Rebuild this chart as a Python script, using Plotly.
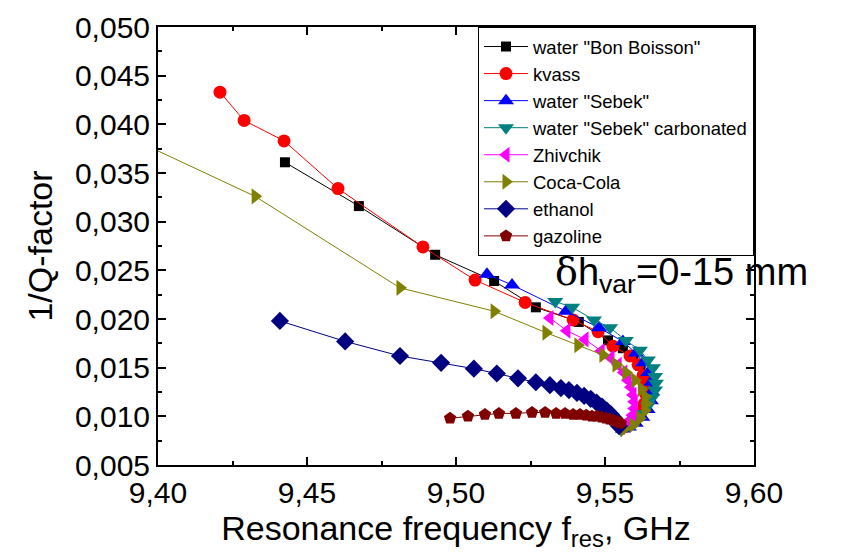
import plotly.graph_objects as go

# ---- data ----
series_names = ['water "Bon Boisson"', 'kvass', 'water "Sebek"', 'water "Sebek" carbonated',
                'Zhivchik', 'Coca-Cola', 'ethanol', 'gazoline']

bon_f = [9.4426, 9.4674, 9.4930, 9.5128, 9.5268, 9.5412, 9.5510, 9.5560, 9.5595, 9.5618,
         9.5632, 9.5640, 9.5642, 9.5638, 9.5628, 9.5612, 9.5592, 9.5572, 9.5556]
bon_q = [0.0361, 0.0316, 0.0266, 0.0239, 0.0212, 0.0197, 0.0178, 0.0170, 0.0161, 0.0152,
         0.0143, 0.0134, 0.0125, 0.0116, 0.0108, 0.0100, 0.0094, 0.0090, 0.0088]

kvass_f = [9.4208, 9.4289, 9.4423, 9.4604, 9.4889, 9.5064, 9.5232, 9.5393, 9.5477, 9.5527,
           9.5584, 9.5611, 9.5628, 9.5636, 9.5638, 9.5632, 9.5620, 9.5602, 9.5580, 9.5560]
kvass_q = [0.0433, 0.0404, 0.0383, 0.0334, 0.0274, 0.0240, 0.0217, 0.0199, 0.0187, 0.0172,
           0.0162, 0.0153, 0.0142, 0.0132, 0.0122, 0.0113, 0.0104, 0.0097, 0.0092, 0.0089]

sebek_f = [9.5104, 9.5188, 9.5369, 9.5480, 9.5560, 9.5604, 9.5628, 9.5645, 9.5655, 9.5658,
           9.5654, 9.5643, 9.5625, 9.5603, 9.5580, 9.5560]
sebek_q = [0.0246, 0.0235, 0.0208, 0.0191, 0.0177, 0.0165, 0.0155, 0.0145, 0.0135, 0.0125,
           0.0116, 0.0107, 0.0099, 0.0093, 0.0089, 0.0087]

carb_f = [9.5333, 9.5390, 9.5463, 9.5517, 9.5570, 9.5617, 9.5644, 9.5661, 9.5668, 9.5671,
          9.5668, 9.5658, 9.5644, 9.5624, 9.5601, 9.5577, 9.5555]
carb_q = [0.0218, 0.0212, 0.0199, 0.0191, 0.0178, 0.0168, 0.0158, 0.0150, 0.0141, 0.0134,
          0.0127, 0.0119, 0.0111, 0.0103, 0.0097, 0.0092, 0.0086]

zhiv_f = [9.5315, 9.5372, 9.5433, 9.5487, 9.5520, 9.5544, 9.5563, 9.5577, 9.5587, 9.5594,
          9.5598, 9.5598, 9.5592, 9.5580, 9.5565, 9.5555]
zhiv_q = [0.0201, 0.0188, 0.0179, 0.0167, 0.0160, 0.0153, 0.0145, 0.0137, 0.0130, 0.0122,
          0.0115, 0.0108, 0.0101, 0.0095, 0.0091, 0.0089]

coca_f = [9.3900, 9.4326, 9.4812, 9.5128, 9.5302, 9.5409, 9.5493, 9.5537, 9.5570, 9.5600,
          9.5622, 9.5635, 9.5638, 9.5634, 9.5617, 9.5594, 9.5564]
coca_q = [0.0387, 0.0326, 0.0232, 0.0208, 0.0186, 0.0173, 0.0163, 0.0153, 0.0145, 0.0137,
          0.0128, 0.0120, 0.0113, 0.0106, 0.0098, 0.0091, 0.0087]

eth_f = [9.4409, 9.4628, 9.4812, 9.4950, 9.5060, 9.5137, 9.5208, 9.5268, 9.5315, 9.5352,
         9.5379, 9.5406, 9.5430, 9.5452, 9.5472, 9.5490, 9.5506, 9.5520, 9.5531, 9.5540, 9.5547]
eth_q = [0.0198, 0.0177, 0.0162, 0.0155, 0.0149, 0.0144, 0.0139, 0.0135, 0.0132, 0.0129,
         0.0127, 0.0124, 0.0121, 0.0118, 0.0114, 0.0110, 0.0106, 0.0102, 0.0098, 0.0094, 0.0090]

gaz_f = [9.4980, 9.5040, 9.5097, 9.5144, 9.5201, 9.5255, 9.5299, 9.5336, 9.5366, 9.5393,
         9.5416, 9.5437, 9.5456, 9.5473, 9.5489, 9.5503, 9.5516, 9.5527, 9.5537, 9.5546, 9.5553]
gaz_q = [0.0098, 0.0100, 0.0102, 0.0103, 0.0103, 0.0104, 0.0104, 0.0103, 0.0103, 0.0102,
         0.0102, 0.0101, 0.0100, 0.0100, 0.0099, 0.0098, 0.0097, 0.0096, 0.0095, 0.0094, 0.0093]

all_f = [bon_f, kvass_f, sebek_f, carb_f, zhiv_f, coca_f, eth_f, gaz_f]
all_q = [bon_q, kvass_q, sebek_q, carb_q, zhiv_q, coca_q, eth_q, gaz_q]

# ---- styles ----
colors = ['#000000', '#FF0000', '#0000FF', '#008080', '#FF00FF', '#808000', '#000080', '#800000']
symbols = ['square', 'circle', 'triangle-up', 'triangle-down', 'triangle-left',
           'triangle-right', 'diamond', 'pentagon']
sizes = [10, 13, 14, 14, 14, 14, 14, 13]

FONT = 'Arial, Liberation Sans, sans-serif'

fig = go.Figure()
for name, f, q, c, s, sz in zip(series_names, all_f, all_q, colors, symbols, sizes):
    fig.add_trace(go.Scatter(
        x=f, y=q, name=name, mode='lines+markers',
        line=dict(color=c, width=1),
        marker=dict(symbol=s, size=sz, color=c, line=dict(width=0)),
    ))

axis_common = dict(
    automargin=False,
    showline=True, linecolor='black', linewidth=2, mirror='ticks',
    ticks='inside', ticklen=8, tickwidth=1.5, tickcolor='black',
    showgrid=False, zeroline=False,
    tickfont=dict(family=FONT, size=30, color='black'),
)

fig.update_layout(
    template='none',
    width=847, height=554,
    paper_bgcolor='white', plot_bgcolor='white',
    margin=dict(l=150, r=101, t=19, b=97),
    separators=', ',
    font=dict(family=FONT, color='black'),
    xaxis=dict(range=[9.40, 9.60], dtick=0.05, tick0=9.40, tickformat='.2f',
               minor=dict(ticks='inside', ticklen=4, tickwidth=1.5, dtick=0.025, tickcolor='black'),
               title=dict(text='Resonance frequency f<sub>res</sub>, GHz',
                          font=dict(family=FONT, size=34), standoff=3),
               **axis_common),
    yaxis=dict(range=[0.005, 0.050], dtick=0.005, tick0=0.005, tickformat='.3f',
               minor=dict(ticks='inside', ticklen=4, tickwidth=1.5, dtick=0.0025, tickcolor='black'),
               title=dict(text='1/Q-factor', font=dict(family=FONT, size=34), standoff=12),
               **axis_common),
    legend=dict(x=1, y=1, xanchor='right', yanchor='top',
                bordercolor='black', borderwidth=1, bgcolor='white',
                font=dict(family=FONT, size=18.5), tracegroupgap=0, itemwidth=44,
                itemsizing='trace'),
    showlegend=True,
)

fig.add_annotation(
    xref='paper', yref='paper', x=0.663, y=0.435, xanchor='left', yanchor='middle',
    showarrow=False,
    text='<span style="font-family:DejaVu Serif">δ</span>h<sub>var</sub>=0-15 mm',
    font=dict(family=FONT, size=38, color='black'),
)

fig.write_html('out.html')
